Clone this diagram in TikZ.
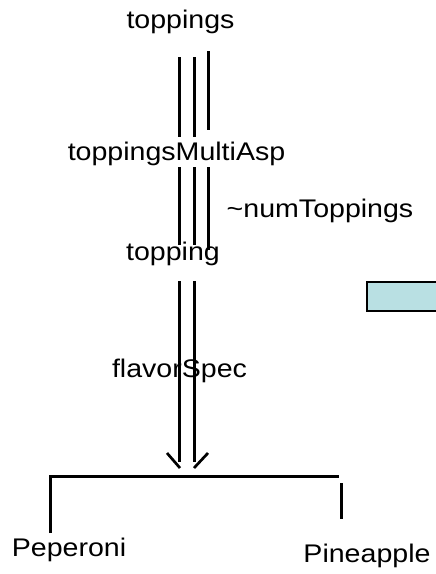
\documentclass[tikz,border=0pt]{standalone}
\usepackage{fontspec}
\setmainfont{Liberation Sans}[FakeStretch=1.12]
\begin{document}
\begin{tikzpicture}[x=1pt,y=-1pt,
  lbl/.style={anchor=base,inner sep=0pt,font=\fontsize{25.5}{30}\selectfont},
  bar/.style={line width=3pt},
  tipline/.style={line width=2.7pt}]
\useasboundingbox (0,0) rectangle (436,574);
\clip (0,0) rectangle (436,574);

% labels
\node[lbl] (toppings) at (180.5,28) {toppings};
\node[lbl] (multi) at (176.5,160) {toppingsMultiAsp};
\node[lbl] (num) at (320,217) {\textasciitilde numToppings};
\node[lbl] (topping) at (173,260) {topping};
\node[lbl] (flavor) at (179.5,377) {flavorSpec};
\node[lbl] (pep) at (69,556) {Peperoni};
\node[lbl] (pine) at (367,562) {Pineapple};

% triple line from toppings to toppingsMultiAsp
\coordinate (a1) at (179,57);  \coordinate (a1e) at (179,137);
\coordinate (a2) at (194,57);  \coordinate (a2e) at (194,137);
\coordinate (a3) at (208,51);  \coordinate (a3e) at (208,130);
\draw[bar] (a1) -- (a1e) (a2) -- (a2e) (a3) -- (a3e);

% triple line from toppingsMultiAsp to topping
\coordinate (b1) at (179,167); \coordinate (b1e) at (179,245);
\coordinate (b2) at (194,167); \coordinate (b2e) at (194,245);
\coordinate (b3) at (208,167); \coordinate (b3e) at (208,250);
\draw[bar] (b1) -- (b1e) (b2) -- (b2e) (b3) -- (b3e);

% double line from topping through flavorSpec
\coordinate (c1) at (179,281); \coordinate (c1e) at (179,462);
\coordinate (c2) at (194,281); \coordinate (c2e) at (194,462);
\draw[bar] (c1) -- (c1e) (c2) -- (c2e);

% half arrow heads
\coordinate (h1) at (167,453); \coordinate (t1) at (180,468);
\coordinate (h2) at (208,453); \coordinate (t2) at (194,468);
\draw[tipline] (h1) -- (t1) (h2) -- (t2);

% branching bracket
\coordinate (br0) at (50,476);
\coordinate (br1) at (339,476);
\coordinate (brL) at (50,533);
\draw[bar] (brL) -- (br0) -- (br1);
\coordinate (r0) at (341,483);
\coordinate (r1) at (341,519);
\draw[bar] (r0) -- (r1);

% box at the right edge
\node[draw=black,line width=2.2pt,fill={rgb,255:red,185;green,224;blue,227},
      minimum width=90pt,minimum height=29pt,inner sep=0pt,anchor=north west]
      (box) at (366,281) {};
\end{tikzpicture}
\end{document}
